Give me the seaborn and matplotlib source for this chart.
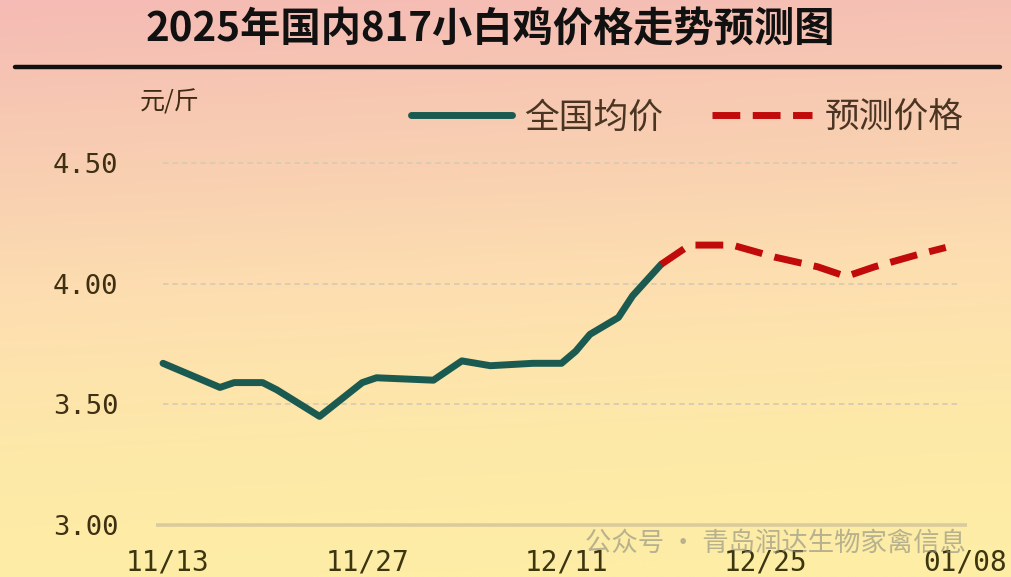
import numpy as np
import pandas as pd
import seaborn as sns
import matplotlib.pyplot as plt
import matplotlib.transforms as mtransforms
from matplotlib.colors import LinearSegmentedColormap

# --- 数据 ---
actual_dates = ['2025-11-13', '2025-11-15', '2025-11-17', '2025-11-18', '2025-11-20',
                '2025-11-21', '2025-11-24', '2025-11-27', '2025-11-28', '2025-12-02',
                '2025-12-04', '2025-12-06', '2025-12-09', '2025-12-11', '2025-12-12',
                '2025-12-13', '2025-12-15', '2025-12-16', '2025-12-18']
actual_price = [3.67, 3.62, 3.57, 3.59, 3.59, 3.56, 3.45, 3.59, 3.61, 3.60,
                3.68, 3.66, 3.67, 3.67, 3.72, 3.79, 3.86, 3.95, 4.08]

forecast_dates = ['2025-12-18', '2025-12-20', '2025-12-23', '2025-12-26', '2025-12-29',
                  '2025-12-31', '2026-01-02', '2026-01-05', '2026-01-07']
forecast_price = [4.08, 4.16, 4.16, 4.11, 4.07, 4.03, 4.07, 4.12, 4.15]

tick_dates = ['2025-11-13', '2025-11-27', '2025-12-11', '2025-12-25', '2026-01-08']
tick_labels = ['11/13', '11/27', '12/11', '12/25', '01/08']
y_ticks = [3.00, 3.50, 4.00, 4.50]
y_tick_labels = ['3.00', '3.50', '4.00', '4.50']

df_actual = pd.DataFrame({'date': pd.to_datetime(actual_dates), 'price': actual_price})
df_fore = pd.DataFrame({'date': pd.to_datetime(forecast_dates), 'price': forecast_price})

sns.set_style('white')
plt.rcParams['font.family'] = ['Noto Sans CJK SC', 'DejaVu Sans']

fig = plt.figure(figsize=(10.11, 5.77), dpi=100)

# 背景渐变（上粉下黄）
bg = fig.add_axes([0, 0, 1, 1])
cmap = LinearSegmentedColormap.from_list('bg', ['#F5BBB5', '#F8CDB2', '#FDDFB0', '#FDE9A8', '#FDEEA5'])
grad = np.linspace(0, 1, 256).reshape(-1, 1)
xg = np.linspace(0, 1, 64).reshape(1, -1)
bg.imshow(grad + 0.08 * xg, aspect='auto', cmap=cmap, extent=[0, 1, 0, 1], origin='upper')
bg.set_axis_off()

# 标题和分隔线
fig.text(0.485, 1 - 30 / 577, '2025年国内817小白鸡价格走势预测图', ha='center', va='center',
         fontsize=29, fontweight='bold', color='#111111')
bg.plot([15 / 1011, 1000 / 1011], [1 - 67 / 577, 1 - 67 / 577], color='#111111', lw=3.2)

ax = fig.add_axes([155.9 / 1011, 40 / 577, 811.2 / 1011, 386 / 577])
ax.patch.set_alpha(0)

x0 = pd.Timestamp('2025-11-13')
x1 = pd.Timestamp('2026-01-08')
half = pd.Timedelta(hours=12)
ax.set_xlim(x0 - half, x1 + half)
ax.set_ylim(2.95, 4.55)

# 网格线
ax.hlines([3.50, 4.00, 4.50], x0, x1, colors='#D9CBB4', linestyles=(0, (3, 2.2)), lw=1.3)
ax.hlines(3.00, x0 - half, x1 + half, colors='#D9CB9E', lw=2.6, clip_on=False)

sns.lineplot(data=df_actual, x='date', y='price', ax=ax, color='#1B5A50', lw=5,
             label='全国均价', solid_capstyle='round', solid_joinstyle='round')
sns.lineplot(data=df_fore, x='date', y='price', ax=ax, color='#C10A0A', lw=5,
             label='预测价格', linestyle=(0, (4.0, 1.8)))

for s in ax.spines.values():
    s.set_visible(False)

ax.set_xticks(pd.to_datetime(tick_dates))
ax.set_xticklabels(tick_labels, family='DejaVu Sans Mono', fontsize=20, color='#3B3510')
ax.set_yticks(y_ticks)
ax.set_yticklabels(y_tick_labels, family='DejaVu Sans Mono', fontsize=19.5, color='#3E3012')
ax.tick_params(axis='x', length=0, pad=8)
ax.tick_params(axis='y', length=0, pad=27)
ax.set_xlabel('')
ax.set_ylabel('')

# x 轴标签整体右移一点
offset = mtransforms.ScaledTranslation(5 / 100, 0, fig.dpi_scale_trans)
for lab in ax.get_xticklabels():
    lab.set_transform(lab.get_transform() + offset)

fig.text(140 / 1011, 1 - 103 / 577, '元/斤', ha='left', va='center', fontsize=18, color='#3E2A12')

leg = ax.legend(loc='center left', bbox_to_anchor=(380 / 1011, 1 - 118 / 577),
                bbox_transform=fig.transFigure, ncol=2, frameon=False, fontsize=25,
                handlelength=2.9, handletextpad=0.35, columnspacing=1.4)
for t in leg.get_texts():
    t.set_color('#4A3422')

# 水印
fig.text(585 / 1011, 1 - 543 / 577, '公众号 · 青岛润达生物家禽信息', ha='left', va='center',
         fontsize=19, color='#8A8A80', alpha=0.6)

fig.savefig('out.png', dpi=100)
